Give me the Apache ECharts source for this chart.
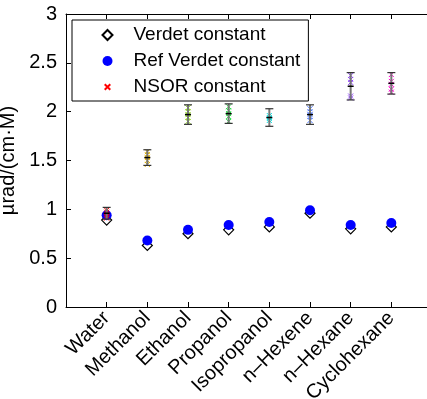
<!DOCTYPE html>
<html>
<head>
<meta charset="utf-8">
<script src="https://cdn.jsdelivr.net/npm/echarts@6/dist/echarts.min.js"></script>
<style>
  html, body { margin: 0; padding: 0; background: #fff; }
  #chart { width: 427px; height: 399px; }
</style>
</head>
<body>
<div id="chart"></div>
<script>
// solvents along the x axis (positions 1..8)
const solvents = ['Water', 'Methanol', 'Ethanol', 'Propanol', 'Isopropanol', 'n–Hexene', 'n–Hexane', 'Cyclohexane'];
const verdet    = [0.89, 0.63, 0.75, 0.79, 0.82, 0.96, 0.80, 0.82];
const refVerdet = [0.94, 0.68, 0.79, 0.84, 0.87, 0.99, 0.84, 0.86];
// individual NSOR runs per solvent
const nsorRuns = [
  [0.91, 0.93, 0.95, 0.97, 0.99],
  [1.46, 1.50, 1.53, 1.56, 1.59],
  [1.90, 1.94, 1.97, 2.00, 2.04],
  [1.90, 1.95, 1.98, 2.01, 2.05],
  [1.91, 1.93, 1.94, 1.96],
  [1.91, 1.95, 1.97, 2.00, 2.03],
  [2.14, 2.16, 2.30, 2.33, 2.37],
  [2.20, 2.23, 2.28, 2.31, 2.38]
];
const nsorMean = [0.96, 1.53, 1.97, 1.98, 1.94, 1.97, 2.26, 2.29];
const nsorStd  = [0.06, 0.08, 0.10, 0.10, 0.09, 0.10, 0.14, 0.11];
const runColors = ['#ff0000', '#e0b000', '#80d000', '#20e040', '#00e0e0', '#4070ff', '#9040ff', '#ff00d0'];
const yTicks = [0, 0.5, 1, 1.5, 2, 2.5, 3];

const FONT = 'Liberation Sans';
// small x with invisible padding so it stays small inside the legend box
const crossPath = 'path://M-4,-4M0,0L10,10M10,0L0,10M14,14';

const chart = echarts.init(document.getElementById('chart'));

const nsorData = [];
nsorRuns.forEach((runs, i) => {
  runs.forEach(v => {
    nsorData.push({ value: [i + 1, v], itemStyle: { borderColor: runColors[i] } });
  });
});

const errData = nsorMean.map((m, i) => [i + 1, m - nsorStd[i], m + nsorStd[i], m]);

const axisCommon = {
  axisLine: { lineStyle: { color: '#000', width: 1 } },
  axisTick: { inside: true, length: 5, lineStyle: { color: '#000' } },
  splitLine: { show: false }
};

chart.setOption({
  animation: false,
  backgroundColor: '#fff',
  grid: { left: 66, right: -5, top: 14, bottom: 92, containLabel: false, outerBoundsMode: 'none' },
  legend: {
    orient: 'vertical',
    left: 72,
    top: 20,
    padding: [5, 8, 4, 28],
    itemGap: 6,
    itemWidth: 10,
    itemHeight: 10,
    borderColor: '#000',
    borderWidth: 1,
    backgroundColor: '#fff',
    textStyle: { fontFamily: FONT, fontSize: 19, lineHeight: 20, color: '#000', padding: [0, 0, 0, 16] },
    data: ['Verdet constant', 'Ref Verdet constant', 'NSOR constant']
  },
  xAxis: [{
    type: 'value', min: 0, max: 9, interval: 1,
    ...axisCommon,
    axisLabel: {
      rotate: 45, margin: 8, fontFamily: FONT, fontSize: 20, color: '#000',
      formatter: v => solvents[v - 1] || ''
    }
  }, {
    type: 'value', min: 0, max: 9, interval: 1, position: 'top',
    ...axisCommon,
    axisLabel: { show: false }
  }],
  yAxis: {
    type: 'value', min: 0, max: 3, interval: 0.5,
    ...axisCommon,
    name: 'µrad/(cm·M)',
    nameLocation: 'middle',
    nameGap: 38,
    nameTextStyle: { fontFamily: FONT, fontSize: 20, color: '#000' },
    axisLabel: {
      margin: 9, fontFamily: FONT, fontSize: 20, color: '#000',
      formatter: v => yTicks.includes(v) ? String(v) : ''
    }
  },
  series: [{
    name: 'Verdet constant',
    type: 'scatter',
    symbol: 'diamond',
    symbolSize: 10,
    itemStyle: { color: '#fff', borderColor: '#000', borderWidth: 1.2, opacity: 1 },
    data: verdet.map((v, i) => [i + 1, v]),
    z: 2
  }, {
    name: 'Ref Verdet constant',
    type: 'scatter',
    symbol: 'circle',
    symbolSize: 10,
    itemStyle: { color: '#0000ff', opacity: 1 },
    data: refVerdet.map((v, i) => [i + 1, v]),
    z: 3
  }, {
    name: 'NSOR constant',
    type: 'scatter',
    symbol: crossPath,
    symbolSize: 9,
    itemStyle: { color: 'none', borderColor: '#ff0000', borderWidth: 1, opacity: 1 },
    data: nsorData,
    z: 4
  }, {
    name: 'NSOR error',
    type: 'custom',
    data: errData,
    z: 5,
    renderItem: (params, api) => {
      const x = api.value(0);
      const lo = api.coord([x, api.value(1)]);
      const hi = api.coord([x, api.value(2)]);
      const mid = api.coord([x, api.value(3)]);
      const w = 4;
      const style = { stroke: '#333', lineWidth: 1.2 };
      return {
        type: 'group',
        children: [
          { type: 'line', shape: { x1: lo[0], y1: lo[1], x2: hi[0], y2: hi[1] }, style: { stroke: '#777', lineWidth: 2 } },
          { type: 'line', shape: { x1: lo[0] - w, y1: lo[1], x2: lo[0] + w, y2: lo[1] }, style },
          { type: 'line', shape: { x1: hi[0] - w, y1: hi[1], x2: hi[0] + w, y2: hi[1] }, style },
          { type: 'line', shape: { x1: mid[0] - 3, y1: mid[1], x2: mid[0] + 3, y2: mid[1] }, style: { stroke: '#000', lineWidth: 1.5 } }
        ]
      };
    }
  }]
});
</script>
</body>
</html>
